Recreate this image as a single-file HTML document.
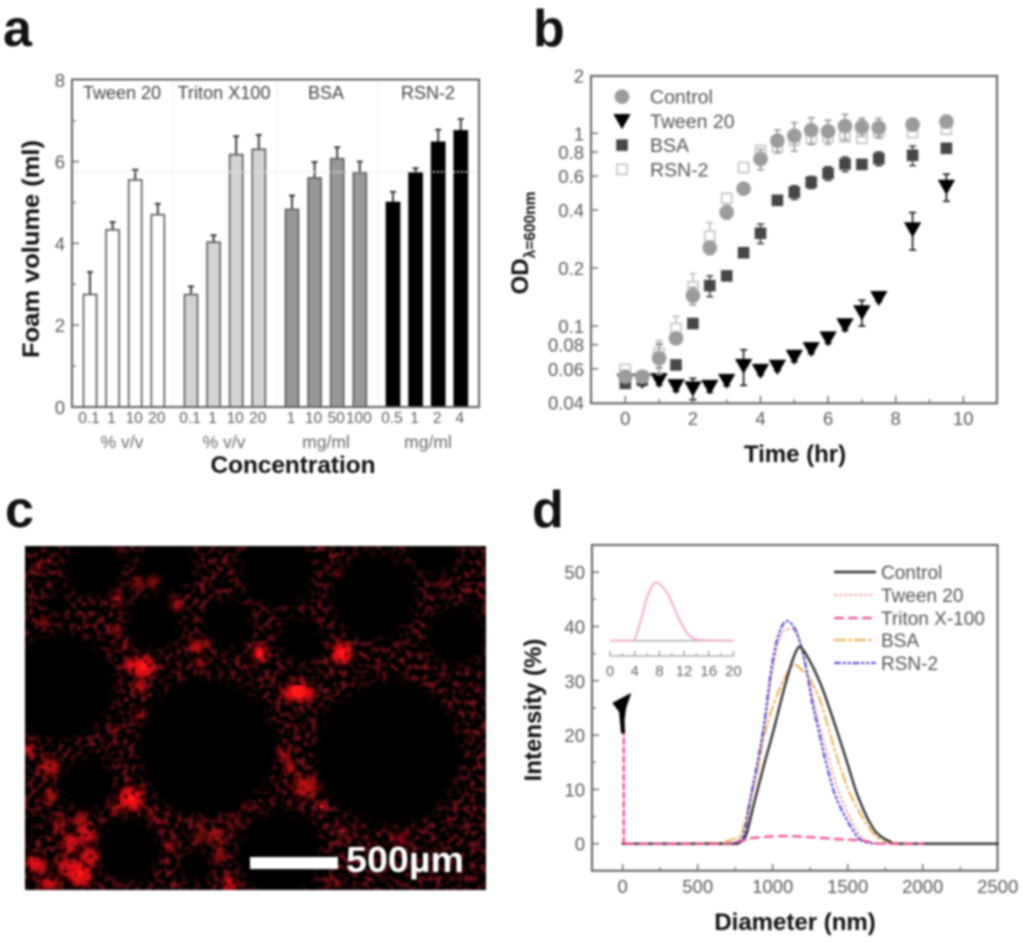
<!DOCTYPE html>
<html lang="en">
<head>
<meta charset="utf-8">
<title>Foam and bacterial growth figure</title>
<style>
html,body{margin:0;padding:0;background:#fff;}
body{width:1024px;height:942px;overflow:hidden;}
#fig{display:block;filter:blur(1px);font-family:"Liberation Sans",Arial,sans-serif;}
</style>
</head>
<body>
<svg id="fig" xmlns="http://www.w3.org/2000/svg" width="1024" height="942" viewBox="0 0 1024 942">
<defs>
<clipPath id="micro-clip"><rect x="25" y="546" width="461" height="344"/></clipPath>
<filter id="speckle" x="0" y="0" width="100%" height="100%">
<feTurbulence type="fractalNoise" baseFrequency="0.17" numOctaves="2" seed="7"/>
<feColorMatrix type="matrix" values="0 0 0 0 0.72  0 0 0 0 0.02  0 0 0 0 0.03  4.5 0 0 0 -2.1"/>
<feGaussianBlur stdDeviation="0.9"/>
</filter>
<filter id="soft-dark" x="-30%" y="-30%" width="160%" height="160%"><feGaussianBlur stdDeviation="5"/></filter>
<filter id="soft-hot" x="-10%" y="-10%" width="120%" height="120%">
<feGaussianBlur in="SourceGraphic" stdDeviation="3" result="soft"/>
<feTurbulence type="fractalNoise" baseFrequency="0.16" numOctaves="2" seed="3" result="noise"/>
<feColorMatrix in="noise" type="matrix" values="0 0 0 0 1  0 0 0 0 1  0 0 0 0 1  4.5 0 0 0 -1.15" result="mask"/>
<feComposite in="soft" in2="mask" operator="in"/>
<feGaussianBlur stdDeviation="0.6"/>
</filter>
</defs>
<rect width="1024" height="942" fill="#fff"/>
<g id="panel-a"></g>
<g id="panel-b"></g>
<g id="panel-c"></g>
<g id="panel-d"></g>
</svg>
<script>
// ---------- Panel a data ----------
const foamGroups = ['Tween 20', 'Triton X100', 'BSA', 'RSN-2'];
const foamUnits = ['% v/v', '% v/v', 'mg/ml', 'mg/ml'];
const foamFills = ['#ffffff', '#d4d4d4', '#989898', '#000000'];
const foamConcLabels = [['0.1', '1', '10', '20'], ['0.1', '1', '10', '20'], ['1', '10', '50', '100'], ['0.5', '1', '2', '4']];
const foamValues = [[2.75, 4.33, 5.55, 4.7], [2.75, 4.03, 6.17, 6.3], [4.83, 5.6, 6.07, 5.73], [5.0, 5.72, 6.47, 6.75]];
const foamErrors = [[0.55, 0.19, 0.25, 0.27], [0.2, 0.17, 0.45, 0.35], [0.34, 0.39, 0.28, 0.27], [0.26, 0.12, 0.31, 0.29]];
const foamYTicks = [0, 2, 4, 6, 8];
const foamYMinor = [1, 3, 5, 7];
const foamReference = 5.75;

// ---------- Panel b data ----------
const odTimes = [0, 0.5, 1, 1.5, 2, 2.5, 3, 3.5, 4, 4.5, 5, 5.5, 6, 6.5, 7, 7.5, 8.5, 9.5];
const odControl = [0.0546, 0.0546, 0.068, 0.0863, 0.1437, 0.255, 0.389, 0.516, 0.736, 0.916, 0.972, 1.04, 1.024, 1.09, 1.08, 1.07, 1.11, 1.15];
const odControlErr = [0.003, 0.002, 0.012, 0.005, 0.015, 0.02, 0.03, 0.02, 0.09, 0.125, 0.165, 0.165, 0.145, 0.165, 0.115, 0.125, 0.08, 0.07];
const odTween = [0.052, 0.052, 0.0524, 0.0488, 0.0475, 0.0484, 0.052, 0.0622, 0.0586, 0.0615, 0.0693, 0.076, 0.0863, 0.101, 0.118, 0.14, 0.318, 0.529];
const odTweenErr = [0.003, 0.003, 0.003, 0.003, 0.006, 0.003, 0.003, 0.013, 0.003, 0.003, 0.004, 0.004, 0.005, 0.006, 0.018, 0.006, 0.07, 0.085];
const odBsa = [0.0504, 0.0524, 0.0707, 0.0628, 0.103, 0.162, 0.182, 0.24, 0.303, 0.449, 0.494, 0.557, 0.62, 0.693, 0.69, 0.739, 0.769, 0.836];
const odBsaErr = [0.002, 0.002, 0.01, 0.002, 0.004, 0.02, 0.005, 0.005, 0.035, 0.01, 0.04, 0.04, 0.05, 0.06, 0.03, 0.06, 0.09, 0.02];
const odRsn = [0.0596, 0.0546, 0.0721, 0.0973, 0.16, 0.293, 0.46, 0.664, 0.813, 0.853, 0.92, 0.942, 0.96, 0.96, 0.942, 1.02, 1.01, 1.05];
const odRsnErr = [0.003, 0.002, 0.012, 0.015, 0.027, 0.05, 0.03, 0.03, 0.05, 0.05, 0.05, 0.05, 0.05, 0.05, 0.05, 0.05, 0.05, 0.05];
const odXTicks = [0, 2, 4, 6, 8, 10];
const odXMinor = [1, 3, 5, 7, 9];
const odYTicks = [0.04, 0.06, 0.08, 0.1, 0.2, 0.4, 0.6, 0.8, 1, 2];
const odLegend = ['Control', 'Tween 20', 'BSA', 'RSN-2'];

// ---------- Panel d data ----------
const controlDia = [0, 700, 760, 800, 830, 870, 940, 1007, 1055, 1095, 1135, 1173, 1210, 1267, 1318, 1355, 1426, 1490, 1540, 1570, 1630, 1693, 1782, 1860, 2500];
const controlInt = [0, 0, 0.1, 0.6, 2.2, 6.8, 14.3, 21, 26.3, 30.4, 34, 36.2, 35.4, 32.6, 29.5, 26.8, 21, 15.5, 11, 8.6, 4.8, 2, 0.4, 0, 0];
const tweenDia = [20, 600, 760, 815, 855, 938, 1000, 1048, 1110, 1170, 1240, 1320, 1400, 1470, 1570, 1650, 1800, 2000];
const tweenInt = [0, 0, 0.3, 1.9, 8, 20.3, 32, 38, 39.6, 38, 30, 21, 13, 7.5, 2, 0.2, 0, 0];
const tritonDia = [20, 650, 800, 850, 1050, 1250, 1450, 1600, 1680, 1800, 2000];
const tritonInt = [0, 0, 0.6, 1, 1.4, 1.2, 0.8, 0.6, 0.1, 0, 0];
const bsaDia = [20, 600, 700, 750, 793, 849, 904, 947, 1017, 1080, 1137, 1185, 1236, 1315, 1382, 1449, 1536, 1670, 1780, 1950];
const bsaInt = [0, 0.1, 0.5, 1, 1.9, 8, 14.2, 20.3, 26.5, 30.5, 33, 32.2, 30.8, 26.5, 20.3, 14.2, 8, 1.9, 0.3, 0];
const rsnDia = [20, 650, 760, 809, 849, 933, 993, 1042, 1097, 1163, 1222, 1260, 1310, 1362, 1430, 1548, 1620, 1750];
const rsnInt = [0, 0, 0.3, 1.9, 8, 20.3, 32.6, 38.7, 41, 38.7, 32.6, 26.5, 20.3, 14.2, 8, 1.9, 0.3, 0];
const spikeDia = [7, 7];
const spikeInt = [0, 20.3];
const markerDia = [-8, -21, -65, 52, 19, 9, 12];
const markerInt = [20.4, 24.3, 25.9, 27.6, 25, 22.8, 20.4];
const insetSize = [0, 3.5, 4, 5, 6, 7, 7.6, 8.5, 9.5, 10.5, 11.5, 12.5, 13.5, 15, 20];
const insetInt = [0, 0, 0.02, 0.36, 0.74, 0.97, 1, 0.93, 0.78, 0.54, 0.31, 0.13, 0.04, 0.01, 0];
const diaTicks = [0, 500, 1000, 1500, 2000, 2500];
const diaMinor = [250, 750, 1250, 1750, 2250];
const intTicks = [0, 10, 20, 30, 40, 50];
const intMinor = [5, 15, 25, 35, 45];
const insetTicks = [0, 4, 8, 12, 16, 20];
const insetMinor = [2, 6, 10, 14, 18];
const dlsLegend = ['Control', 'Tween 20', 'Triton X-100', 'BSA', 'RSN-2'];

// ---------- Micrograph features (image texture, not chart data) ----------
const bubbleX = [620, 1165, 180, 280, 830, 1120, 460, 680, 900, 1370, 260, 385, 840, 590, 500, 170, 30, 1300, 80];
const bubbleY = [770, 790, 590, 235, 240, 320, 400, 400, 450, 440, 880, 1080, 1090, 1130, 225, 340, 1020, 190, 1010];
const bubbleR = [210, 220, 165, 90, 115, 132, 85, 76, 72, 92, 84, 98, 130, 50, 90, 38, 52, 74, 32];
const hotX = [430, 395, 420, 895, 860, 930, 780, 1025, 590, 530, 350, 118, 1015, 395, 965, 870, 855, 915, 240, 260, 210, 100, 140, 90, 150, 150, 690, 650, 510, 1330, 130, 600, 460, 410, 350, 375, 420, 350, 1200, 1000, 480, 600, 1030, 600, 620, 200, 270, 120, 180, 240, 160, 350, 450, 700, 660, 740];
const hotY = [530, 525, 590, 605, 610, 610, 490, 490, 470, 345, 330, 230, 250, 925, 950, 830, 790, 890, 1150, 1030, 1060, 1120, 1180, 780, 830, 920, 1180, 1040, 1070, 280, 400, 520, 275, 280, 420, 470, 680, 720, 1050, 1180, 1000, 1040, 1030, 1000, 460, 1130, 1100, 1130, 1000, 990, 1180, 950, 970, 1000, 1100, 950];
const hotR = [34, 22, 18, 34, 18, 18, 24, 32, 20, 16, 16, 10, 10, 36, 12, 14, 16, 36, 36, 28, 28, 22, 18, 18, 28, 20, 22, 24, 18, 12, 16, 14, 20, 18, 16, 12, 14, 12, 28, 18, 12, 18, 22, 14, 14, 26, 26, 22, 20, 22, 18, 18, 14, 20, 20, 14];
const hotA = [1, 0.9, 0.9, 1, 0.9, 0.9, 1, 1, 0.8, 0.8, 0.8, 0.9, 0.7, 1, 1, 1, 1, 0.7, 1, 0.85, 0.85, 0.95, 0.9, 0.8, 0.7, 0.7, 0.95, 0.65, 0.65, 0.5, 0.6, 0.7, 0.55, 0.6, 0.6, 0.6, 0.7, 0.55, 0.3, 0.35, 0.6, 0.5, 0.35, 0.5, 0.55, 0.9, 0.9, 0.8, 0.6, 0.6, 0.8, 0.6, 0.5, 0.5, 0.6, 0.4];
const hotCoreX = [895, 430, 780, 1025, 395, 240, 965];
const hotCoreY = [605, 530, 490, 490, 925, 1150, 950];
const hotCoreR = [20, 11, 8, 10, 10, 10, 5];

// ---------- Helpers ----------
const NS = 'http://www.w3.org/2000/svg';
const TICK = '#666', TXT = '#5a5a5a', DARK = '#111';
function mk(parent, tag, attrs, name) {
  const el = document.createElementNS(NS, tag);
  for (const k in attrs) el.setAttribute(k, attrs[k]);
  
  
  parent.appendChild(el);
  return el;
}
function label(parent, x, y, str, size, anchor, fill, name, extra) {
  const attrs = Object.assign({x: x, y: y, 'font-size': size, 'text-anchor': anchor, fill: fill}, extra || {});
  const el = mk(parent, 'text', attrs, name);
  el.textContent = str;
  return el;
}
function line(parent, x1, y1, x2, y2, stroke, w, name) {
  return mk(parent, 'line', {x1: x1, y1: y1, x2: x2, y2: y2, stroke: stroke, 'stroke-width': w}, name);
}
function frame(parent, x, y, w, h) {
  return mk(parent, 'rect', {x: x, y: y, width: w, height: h, fill: 'none', stroke: '#5e5e5e', 'stroke-width': 2}, 'plot-frame');
}
function smoothPath(xs, ys) {
  let d = 'M' + xs[0].toFixed(2) + ' ' + ys[0].toFixed(2);
  for (let i = 0; i < xs.length - 1; i++) {
    const x0 = xs[Math.max(i - 1, 0)], y0 = ys[Math.max(i - 1, 0)];
    const x1 = xs[i], y1 = ys[i], x2 = xs[i + 1], y2 = ys[i + 1];
    const x3 = xs[Math.min(i + 2, xs.length - 1)], y3 = ys[Math.min(i + 2, xs.length - 1)];
    const flat = (y1 === y2);
    const c1x = x1 + (x2 - x0) / 6, c1y = flat ? y1 : y1 + (y2 - y0) / 6;
    const c2x = x2 - (x3 - x1) / 6, c2y = flat ? y2 : y2 - (y3 - y1) / 6;
    d += 'C' + c1x.toFixed(2) + ' ' + c1y.toFixed(2) + ' ' + c2x.toFixed(2) + ' ' + c2y.toFixed(2) + ' ' + x2.toFixed(2) + ' ' + y2.toFixed(2);
  }
  return d;
}

// ---------- Panel a ----------
(function () {
  const g = document.getElementById('panel-a');
  const fy = v => 407 - v * 40.9;
  const fx = (grp, i) => 90 + grp * 101 + i * 22.6;
  const W = 13;
  label(g, 3, 46, 'a', 52, 'start', '#111', 'panel-label-a', {'font-weight': 'bold'});
  [173, 277, 378].forEach(x => line(g, x, 80, x, 406, '#eeeeee', 1, 'group-divider'));
  foamValues.forEach((vals, grp) => {
    vals.forEach((v, i) => {
      const cx = fx(grp, i), top = fy(v), errTop = fy(v + foamErrors[grp][i]);
      const col = grp === 3 ? '#000' : '#5f5f5f';
      line(g, cx, top, cx, errTop, '#333', 1.9, 'error-bar');
      line(g, cx - 3, errTop, cx + 3, errTop, '#333', 1.9, 'error-cap');
      mk(g, 'rect', {x: cx - W / 2, y: top, width: W, height: 407 - top, fill: foamFills[grp], stroke: col, 'stroke-width': 1.7}, 'foam-bar');
      label(g, cx - 1, 423, foamConcLabels[grp][i], 15.5, 'middle', TXT, 'concentration-label');
    });
    const mid = 122 + grp * 102;
    label(g, mid, 99, foamGroups[grp], 18, 'middle', '#444', 'group-title', grp === 1 ? {textLength: 93, lengthAdjust: 'spacing'} : {});
    label(g, mid, 448, foamUnits[grp], 17.5, 'middle', '#6a6a6a', 'unit-label');
  });
  mk(g, 'line', {x1: fx(0, 0) - 17, y1: fy(foamReference), x2: 479, y2: fy(foamReference), stroke: '#e4e4e4', 'stroke-width': 1.6, 'stroke-dasharray': '2 2'}, 'reference-line');
  frame(g, 72, 79.5, 407, 327.5);
  foamYTicks.forEach(t => {
    line(g, 72, fy(t), 79, fy(t), TICK, 1.4, 'y-tick');
    label(g, 65, fy(t) + 7, String(t), 18.5, 'end', TXT, 'y-tick-label');
  });
  foamYMinor.forEach(t => line(g, 72, fy(t), 76, fy(t), TICK, 1.2, 'y-minor-tick'));
  label(g, 39, 249, 'Foam volume (ml)', 24, 'middle', DARK, 'y-axis-title', {'font-weight': 'bold', transform: 'rotate(-90 39 249)', textLength: 218, lengthAdjust: 'spacingAndGlyphs'});
  label(g, 293, 473, 'Concentration', 24, 'middle', DARK, 'x-axis-title', {'font-weight': 'bold', textLength: 165, lengthAdjust: 'spacingAndGlyphs'});
})();

// ---------- Panel b ----------
(function () {
  const g = document.getElementById('panel-b');
  const fx = t => 625.3 + t * 33.8;
  const fy = v => 133.3 - Math.log10(v) * 192.7;
  label(g, 533, 46, 'b', 52, 'start', '#111', 'panel-label-b', {'font-weight': 'bold'});
  function marker(parent, kind, cx, cy, name) {
    if (kind === 'Control') return mk(parent, 'circle', {cx: cx, cy: cy, r: 7.3, fill: '#9c9c9c'}, name);
    if (kind === 'Tween 20') return mk(parent, 'path', {d: 'M' + (cx - 8) + ' ' + (cy - 6.5) + 'L' + (cx + 8) + ' ' + (cy - 6.5) + 'L' + cx + ' ' + (cy + 7.5) + 'Z', fill: '#000', stroke: '#000', 'stroke-width': 0.8}, name);
    if (kind === 'BSA') return mk(parent, 'rect', {x: cx - 5.8, y: cy - 5.8, width: 11.6, height: 11.6, fill: '#464646'}, name);
    return mk(parent, 'rect', {x: cx - 5, y: cy - 5, width: 10, height: 10, fill: '#fff', stroke: '#c8c8c8', 'stroke-width': 1.8}, name);
  }
  const drawOrder = [
    ['Tween 20', odTween, odTweenErr, '#111'],
    ['BSA', odBsa, odBsaErr, '#444'],
    ['RSN-2', odRsn, odRsnErr, '#bdbdbd'],
    ['Control', odControl, odControlErr, '#9a9a9a']
  ];
  drawOrder.forEach(s => {
    const series = mk(g, 'g', {}, 'series-' + s[0].toLowerCase().replace(/\s+/g, '-'));
    odTimes.forEach((t, i) => {
      const cx = fx(t), hi = fy(s[1][i] + s[2][i]), lo = fy(Math.max(s[1][i] - s[2][i], 0.001));
      line(series, cx, hi, cx, lo, s[3], 1.6, 'error-bar');
      line(series, cx - 3.5, hi, cx + 3.5, hi, s[3], 1.6, 'error-cap');
      line(series, cx - 3.5, lo, cx + 3.5, lo, s[3], 1.6, 'error-cap');
      marker(series, s[0], cx, fy(s[1][i]), 'data-point');
    });
  });
  frame(g, 591, 76, 406, 327.3);
  odXTicks.forEach(t => {
    line(g, fx(t), 403, fx(t), 396, TICK, 1.4, 'x-tick');
    label(g, fx(t), 425, String(t), 18.5, 'middle', TXT, 'x-tick-label');
  });
  odXMinor.forEach(t => line(g, fx(t), 403, fx(t), 399, TICK, 1.2, 'x-minor-tick'));
  odYTicks.forEach(t => {
    if (t !== 2 && t !== 0.04) line(g, 591, fy(t), 598, fy(t), TICK, 1.4, 'y-tick');
    label(g, 584, fy(t) + 7, String(t), 18.5, 'end', TXT, 'y-tick-label');
  });
  odLegend.forEach((n, i) => {
    const y = 96.7 + i * 24.2;
    const entry = mk(g, 'g', {}, 'legend-entry');
    marker(entry, n, 622, y, 'legend-marker');
    label(entry, 650, y + 7, n, 19.5, 'start', '#555', 'legend-label');
  });
  const od = mk(g, 'text', {x: 528, y: 243, 'font-size': 24, 'font-weight': 'bold', fill: DARK, 'text-anchor': 'middle', transform: 'rotate(-90 528 243)'}, 'y-axis-title');
  od.textContent = 'OD';
  const sub = mk(od, 'tspan', {dy: 7, 'font-size': 15.5}, 'y-axis-title-subscript');
  sub.textContent = 'λ=600nm';
  label(g, 795, 462, 'Time (hr)', 24, 'middle', DARK, 'x-axis-title', {'font-weight': 'bold'});
})();

// ---------- Panel c ----------
(function () {
  const g = document.getElementById('panel-c');
  const px = x => x / 3, py = y => 490 + y / 3;
  label(g, 5, 527, 'c', 52, 'start', '#111', 'panel-label-c', {'font-weight': 'bold'});
  const clip = mk(g, 'g', {'clip-path': 'url(#micro-clip)'}, 'micrograph-image');
  mk(clip, 'rect', {x: 25, y: 546, width: 461, height: 344, fill: '#000'}, 'micrograph-background');
  mk(clip, 'rect', {x: 25, y: 546, width: 461, height: 344, fill: '#fff', filter: 'url(#speckle)', opacity: 0.5}, 'foam-lamella-speckle');
  const dark = mk(clip, 'g', {filter: 'url(#soft-dark)'}, 'foam-bubbles');
  bubbleX.forEach((x, i) => mk(dark, 'circle', {cx: px(x), cy: py(bubbleY[i]), r: bubbleR[i] / 3, fill: '#000'}, 'foam-bubble'));
  const hot = mk(clip, 'g', {filter: 'url(#soft-hot)'}, 'fluorescent-patches');
  hotX.forEach((x, i) => mk(hot, 'circle', {cx: px(x), cy: py(hotY[i]), r: hotR[i] / 3, fill: '#ee1015', opacity: hotA[i]}, 'fluorescent-patch'));
  hotCoreX.forEach((x, i) => mk(clip, 'circle', {cx: px(x), cy: py(hotCoreY[i]), r: hotCoreR[i] / 3, fill: '#ff1a1a'}, 'bright-core'));
  mk(g, 'rect', {x: 250, y: 857, width: 88, height: 12, fill: '#fff'}, 'scale-bar');
  label(g, 346, 872, '500µm', 36, 'start', '#fff', 'scale-bar-label', {'font-weight': 'bold', textLength: 118, lengthAdjust: 'spacingAndGlyphs'});
})();

// ---------- Panel d ----------
(function () {
  const g = document.getElementById('panel-d');
  const fx = d => 622.7 + d * 0.15;
  const fy = v => 843.7 - v * 5.43;
  const ix = s => 610 + s * 6.17;
  const iy = v => 640.7 - v * 58;
  label(g, 532, 527, 'd', 52, 'start', '#111', 'panel-label-d', {'font-weight': 'bold'});
  frame(g, 592, 545, 405.5, 325.7);
  diaTicks.forEach(t => {
    line(g, fx(t), 870.7, fx(t), 864, TICK, 1.4, 'x-tick');
    label(g, fx(t), 893, String(t), 18.5, 'middle', TXT, 'x-tick-label');
  });
  diaMinor.forEach(t => line(g, fx(t), 870.7, fx(t), 867, TICK, 1.2, 'x-minor-tick'));
  intTicks.forEach(t => {
    line(g, 592, fy(t), 599, fy(t), TICK, 1.4, 'y-tick');
    label(g, 585, fy(t) + 7, String(t), 18.5, 'end', TXT, 'y-tick-label');
  });
  intMinor.forEach(t => line(g, 592, fy(t), 596, fy(t), TICK, 1.2, 'y-minor-tick'));
  const styles = {
    Tween: {stroke: '#eda5a5', width: 2, dash: '1.5 3.5'},
    Triton: {stroke: '#ee4f95', width: 2.2, dash: '8 6'},
    BSA: {stroke: '#e8b560', width: 2.2, dash: '10 4 2 4'},
    RSN: {stroke: '#4a45cf', width: 2.1, dash: '5 3.5 1.5 3.5 1.5 3.5'},
    Control: {stroke: '#333', width: 2.4, dash: ''}
  };
  function curve(xs, vs, st, name) {
    return mk(g, 'path', {d: smoothPath(xs.map(fx), vs.map(fy)), fill: 'none', stroke: st.stroke, 'stroke-width': st.width, 'stroke-dasharray': st.dash, 'stroke-linecap': 'round'}, name);
  }
  curve(bsaDia, bsaInt, styles.BSA, 'curve-bsa');
  curve(tweenDia, tweenInt, styles.Tween, 'curve-tween-20');
  curve(rsnDia, rsnInt, styles.RSN, 'curve-rsn-2');
  curve(controlDia, controlInt, styles.Control, 'curve-control');
  curve(tritonDia, tritonInt, styles.Triton, 'curve-triton-x-100');
  mk(g, 'line', {x1: fx(spikeDia[0]), y1: fy(spikeInt[0]), x2: fx(spikeDia[1]), y2: fy(spikeInt[1]), stroke: '#ee3f8f', 'stroke-width': 2.2, 'stroke-dasharray': '7 2'}, 'triton-spike');
  mk(g, 'polygon', {points: markerDia.map((d, i) => fx(d).toFixed(1) + ',' + fy(markerInt[i]).toFixed(1)).join(' '), fill: '#000', stroke: '#000', 'stroke-width': 1, 'stroke-linejoin': 'round'}, 'spike-marker');
  // inset
  const inset = mk(g, 'g', {}, 'inset-chart');
  line(inset, ix(0), iy(0), ix(20), iy(0), '#8a8a8a', 1, 'inset-baseline');
  mk(inset, 'path', {d: smoothPath(insetSize.map(ix), insetInt.map(iy)), fill: 'none', stroke: '#efaccb', 'stroke-width': 2}, 'inset-curve');
  line(inset, ix(0), 656, ix(20), 656, '#888', 1, 'inset-x-axis');
  insetTicks.forEach(t => {
    line(inset, ix(t), 656, ix(t), 651, '#777', 1, 'inset-x-tick');
    label(inset, ix(t), 676, String(t), 15, 'middle', '#666', 'inset-x-tick-label');
  });
  insetMinor.forEach(t => line(inset, ix(t), 656, ix(t), 653, '#888', 1, 'inset-x-minor-tick'));
  // legend
  const keys = ['Control', 'Tween', 'Triton', 'BSA', 'RSN'];
  const keyY = [572, 595, 618, 640, 663];
  dlsLegend.forEach((n, i) => {
    const entry = mk(g, 'g', {}, 'legend-entry');
    const st = styles[keys[i]];
    mk(entry, 'line', {x1: 835, y1: keyY[i], x2: 875, y2: keyY[i], stroke: st.stroke, 'stroke-width': st.width, 'stroke-dasharray': st.dash, 'stroke-linecap': 'round'}, 'legend-line');
    label(entry, 881, keyY[i] + 7, n, 19, 'start', '#555', 'legend-label');
  });
  label(g, 541, 710, 'Intensity (%)', 24, 'middle', DARK, 'y-axis-title', {'font-weight': 'bold', transform: 'rotate(-90 541 710)'});
  label(g, 795, 930, 'Diameter (nm)', 24, 'middle', DARK, 'x-axis-title', {'font-weight': 'bold'});
})();
</script>
</body>
</html>
